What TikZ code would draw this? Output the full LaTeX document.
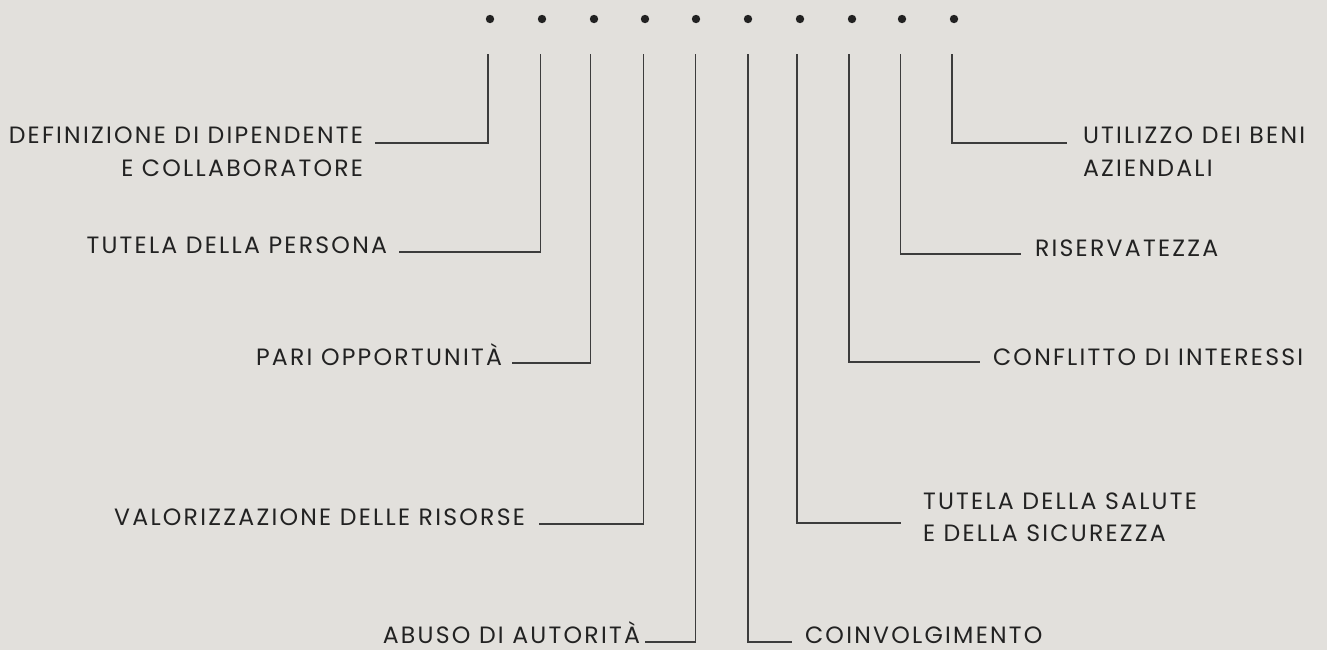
\documentclass[tikz,border=0pt]{standalone}
\usepackage{fontspec}
\setmainfont{Poppins}[LetterSpace=9.5]
\definecolor{bg}{RGB}{226,224,220}
\definecolor{ink}{RGB}{34,34,34}
\definecolor{wirec}{RGB}{60,60,60}
\begin{document}
\begin{tikzpicture}[x=0.5pt,y=-0.5pt,
  lbl/.style={font=\fontsize{11.8}{14}\selectfont, text=ink, inner sep=0pt, outer sep=0pt},
  wire/.style={draw=wirec, line width=0.65pt},
  dotn/.style={circle, fill=ink, inner sep=0pt, minimum size=4.2pt}]
\fill[bg] (0,0) rectangle (1327,650);
\useasboundingbox (0,0) rectangle (1327,650);
% dots
\foreach \i/\x in {1/490,2/542,3/594,4/645,5/696,6/748,7/800,8/852,9/902,10/954}
  \node[dotn] (d\i) at (\x,19) {};
% top ends of the vertical lines
\foreach \i/\x in {1/488,2/540.6,3/590.6,4/643.4,5/695.8,6/748,7/797,8/849,9/900.6,10/952}
  \coordinate (c\i) at (\x,54);
% corners and free ends
\coordinate (b1) at (488,143);   \coordinate (e1) at (375,143);
\coordinate (b2) at (540.6,252); \coordinate (e2) at (399,252);
\coordinate (b3) at (590.6,363); \coordinate (e3) at (512,363);
\coordinate (b4) at (643.4,524); \coordinate (e4) at (539,524);
\coordinate (b5) at (695.8,642); \coordinate (e5) at (645,642);
\coordinate (b6) at (748,642);   \coordinate (e6) at (792,642);
\coordinate (b7) at (797,523);   \coordinate (e7) at (901,523);
\coordinate (b8) at (849,362);   \coordinate (e8) at (980,362);
\coordinate (b9) at (900.6,254); \coordinate (e9) at (1021,254);
\coordinate (b10) at (952,143);  \coordinate (e10) at (1067,143);
\foreach \i in {1,...,10}
  \draw[wire] (c\i) -- (b\i) -- (e\i);
% left labels
\node[lbl, anchor=base east] (t1a) at (363,143) {DEFINIZIONE DI DIPENDENTE};
\node[lbl, anchor=base east] (t1b) at (363,176) {E COLLABORATORE};
\node[lbl, anchor=base east] (t2) at (387,253) {TUTELA DELLA PERSONA};
\node[lbl, anchor=base east] (t3) at (502,365) {PARI OPPORTUNITÀ};
\node[lbl, anchor=base east] (t4) at (525,525) {VALORIZZAZIONE DELLE RISORSE};
\node[lbl, anchor=base east] (t5) at (640,643) {ABUSO DI AUTORITÀ};
% right labels
\node[lbl, anchor=base west] (t6) at (805,643) {COINVOLGIMENTO};
\node[lbl, anchor=base west] (t7a) at (923,509) {TUTELA DELLA SALUTE};
\node[lbl, anchor=base west] (t7b) at (923,541) {E DELLA SICUREZZA};
\node[lbl, anchor=base west] (t8) at (993,365) {CONFLITTO DI INTERESSI};
\node[lbl, anchor=base west] (t9) at (1035,256) {RISERVATEZZA};
\node[lbl, anchor=base west] (t10a) at (1083,143) {UTILIZZO DEI BENI};
\node[lbl, anchor=base west] (t10b) at (1083,176) {AZIENDALI};
\end{tikzpicture}
\end{document}
